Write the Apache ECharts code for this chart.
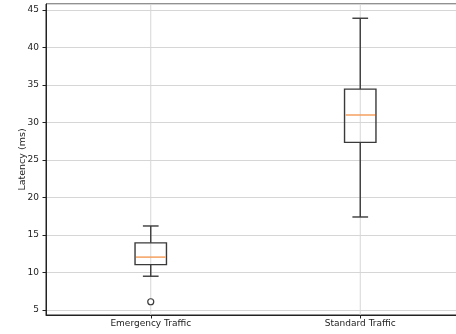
<!DOCTYPE html>
<html>
<head>
<meta charset="utf-8">
<script src="https://cdn.jsdelivr.net/npm/echarts@6/dist/echarts.min.js"></script>
<style>html,body{margin:0;padding:0;background:#fff;}#c{width:456px;height:334px;}</style>
</head>
<body>
<div id="c"></div>
<script>
var categories = ['Emergency Traffic', 'Standard Traffic'];
// [lowWhisker, q1, median, q3, highWhisker]
var emergencyStats = [9.5, 11.05, 12.05, 13.95, 16.2];
var standardStats = [17.4, 27.35, 31.0, 34.45, 43.9];
var outliers = [['Emergency Traffic', 6.1]];
var yTicks = [5, 10, 15, 20, 25, 30, 35, 40, 45];

var boxData = [
  [0].concat(emergencyStats),
  [1].concat(standardStats)
];
var gridXData = categories.map(function (c, i) { return [i]; });

var chart = echarts.init(document.getElementById('c'));
var FONT = 'DejaVu Sans';
var INK = '#222222';
var BOX = '#3a3a3a';
var GRIDC = '#d6d6d6';

function renderBox(params, api) {
  var x = api.value(0);
  var lo = api.coord([x, api.value(1)]);
  var q1 = api.coord([x, api.value(2)]);
  var med = api.coord([x, api.value(3)]);
  var q3 = api.coord([x, api.value(4)]);
  var hi = api.coord([x, api.value(5)]);
  var bw = api.size([1, 0])[0] * 0.15;
  var cw = bw / 2;
  var cx = lo[0];
  var ls = {stroke: BOX, lineWidth: 1.4, fill: null};
  return {
    type: 'group',
    children: [
      {type: 'line', shape: {x1: cx, y1: lo[1], x2: cx, y2: q1[1]}, style: ls},
      {type: 'line', shape: {x1: cx, y1: q3[1], x2: cx, y2: hi[1]}, style: ls},
      {type: 'line', shape: {x1: cx - cw / 2, y1: lo[1], x2: cx + cw / 2, y2: lo[1]}, style: ls},
      {type: 'line', shape: {x1: cx - cw / 2, y1: hi[1], x2: cx + cw / 2, y2: hi[1]}, style: ls},
      {type: 'rect', shape: {x: cx - bw / 2, y: q3[1], width: bw, height: q1[1] - q3[1]}, style: {stroke: BOX, lineWidth: 1.4, fill: 'none'}},
      {type: 'line', shape: {x1: cx - bw / 2 + 1, y1: med[1], x2: cx + bw / 2 - 1, y2: med[1]}, style: {stroke: '#f59a55', lineWidth: 1.4}}
    ]
  };
}

function renderVGrid(params, api) {
  var cs = params.coordSys;
  var x = api.coord([api.value(0), 20])[0];
  return {type: 'line', silent: true,
    shape: {x1: x, y1: cs.y, x2: x, y2: cs.y + cs.height},
    style: {stroke: GRIDC, lineWidth: 1}};
}

chart.setOption({
  animation: false,
  backgroundColor: '#fff',
  grid: {left: 46, top: 4, right: -9, bottom: 19, outerBoundsMode: 'none', containLabel: false,
    show: true, borderColor: INK, borderWidth: 1, backgroundColor: 'transparent'},
  xAxis: {
    type: 'category',
    data: categories,
    boundaryGap: true,
    axisLine: {show: true, lineStyle: {color: INK, width: 1}},
    axisTick: {show: true, alignWithLabel: true, length: 3.5, lineStyle: {color: INK}},
    axisLabel: {color: INK, fontFamily: FONT, fontSize: 9, margin: 4},
    splitLine: {show: false}
  },
  yAxis: {
    type: 'value',
    min: 4.33,
    max: 45.8,
    splitNumber: 8,
    minInterval: 5,
    maxInterval: 5,
    name: 'Latency (ms)',
    nameLocation: 'middle',
    nameGap: 18,
    nameMoveOverlap: false,
    nameTextStyle: {color: INK, fontFamily: FONT, fontSize: 9.5},
    axisLine: {show: true, lineStyle: {color: INK, width: 1}},
    axisTick: {show: true, length: 3.5, lineStyle: {color: INK}},
    axisLabel: {color: INK, fontFamily: FONT, fontSize: 9, margin: 7, showMinLabel: false, showMaxLabel: false,
      formatter: function (v) { return yTicks.indexOf(v) >= 0 ? String(v) : ''; }},
    splitLine: {show: true, lineStyle: {color: GRIDC, width: 1}}
  },
  series: [
    {
      type: 'custom',
      z: 1,
      silent: true,
      renderItem: renderVGrid,
      encode: {x: 0},
      data: gridXData
    },
    {
      type: 'scatter',
      z: 5,
      data: outliers,
      symbol: 'circle',
      symbolSize: 6,
      itemStyle: {color: '#ffffff', borderColor: BOX, borderWidth: 1.2, opacity: 1}
    },
    {
      type: 'custom',
      z: 4,
      renderItem: renderBox,
      encode: {x: 0, y: [1, 2, 3, 4, 5]},
      data: boxData
    }
  ]
});
</script>
</body>
</html>
